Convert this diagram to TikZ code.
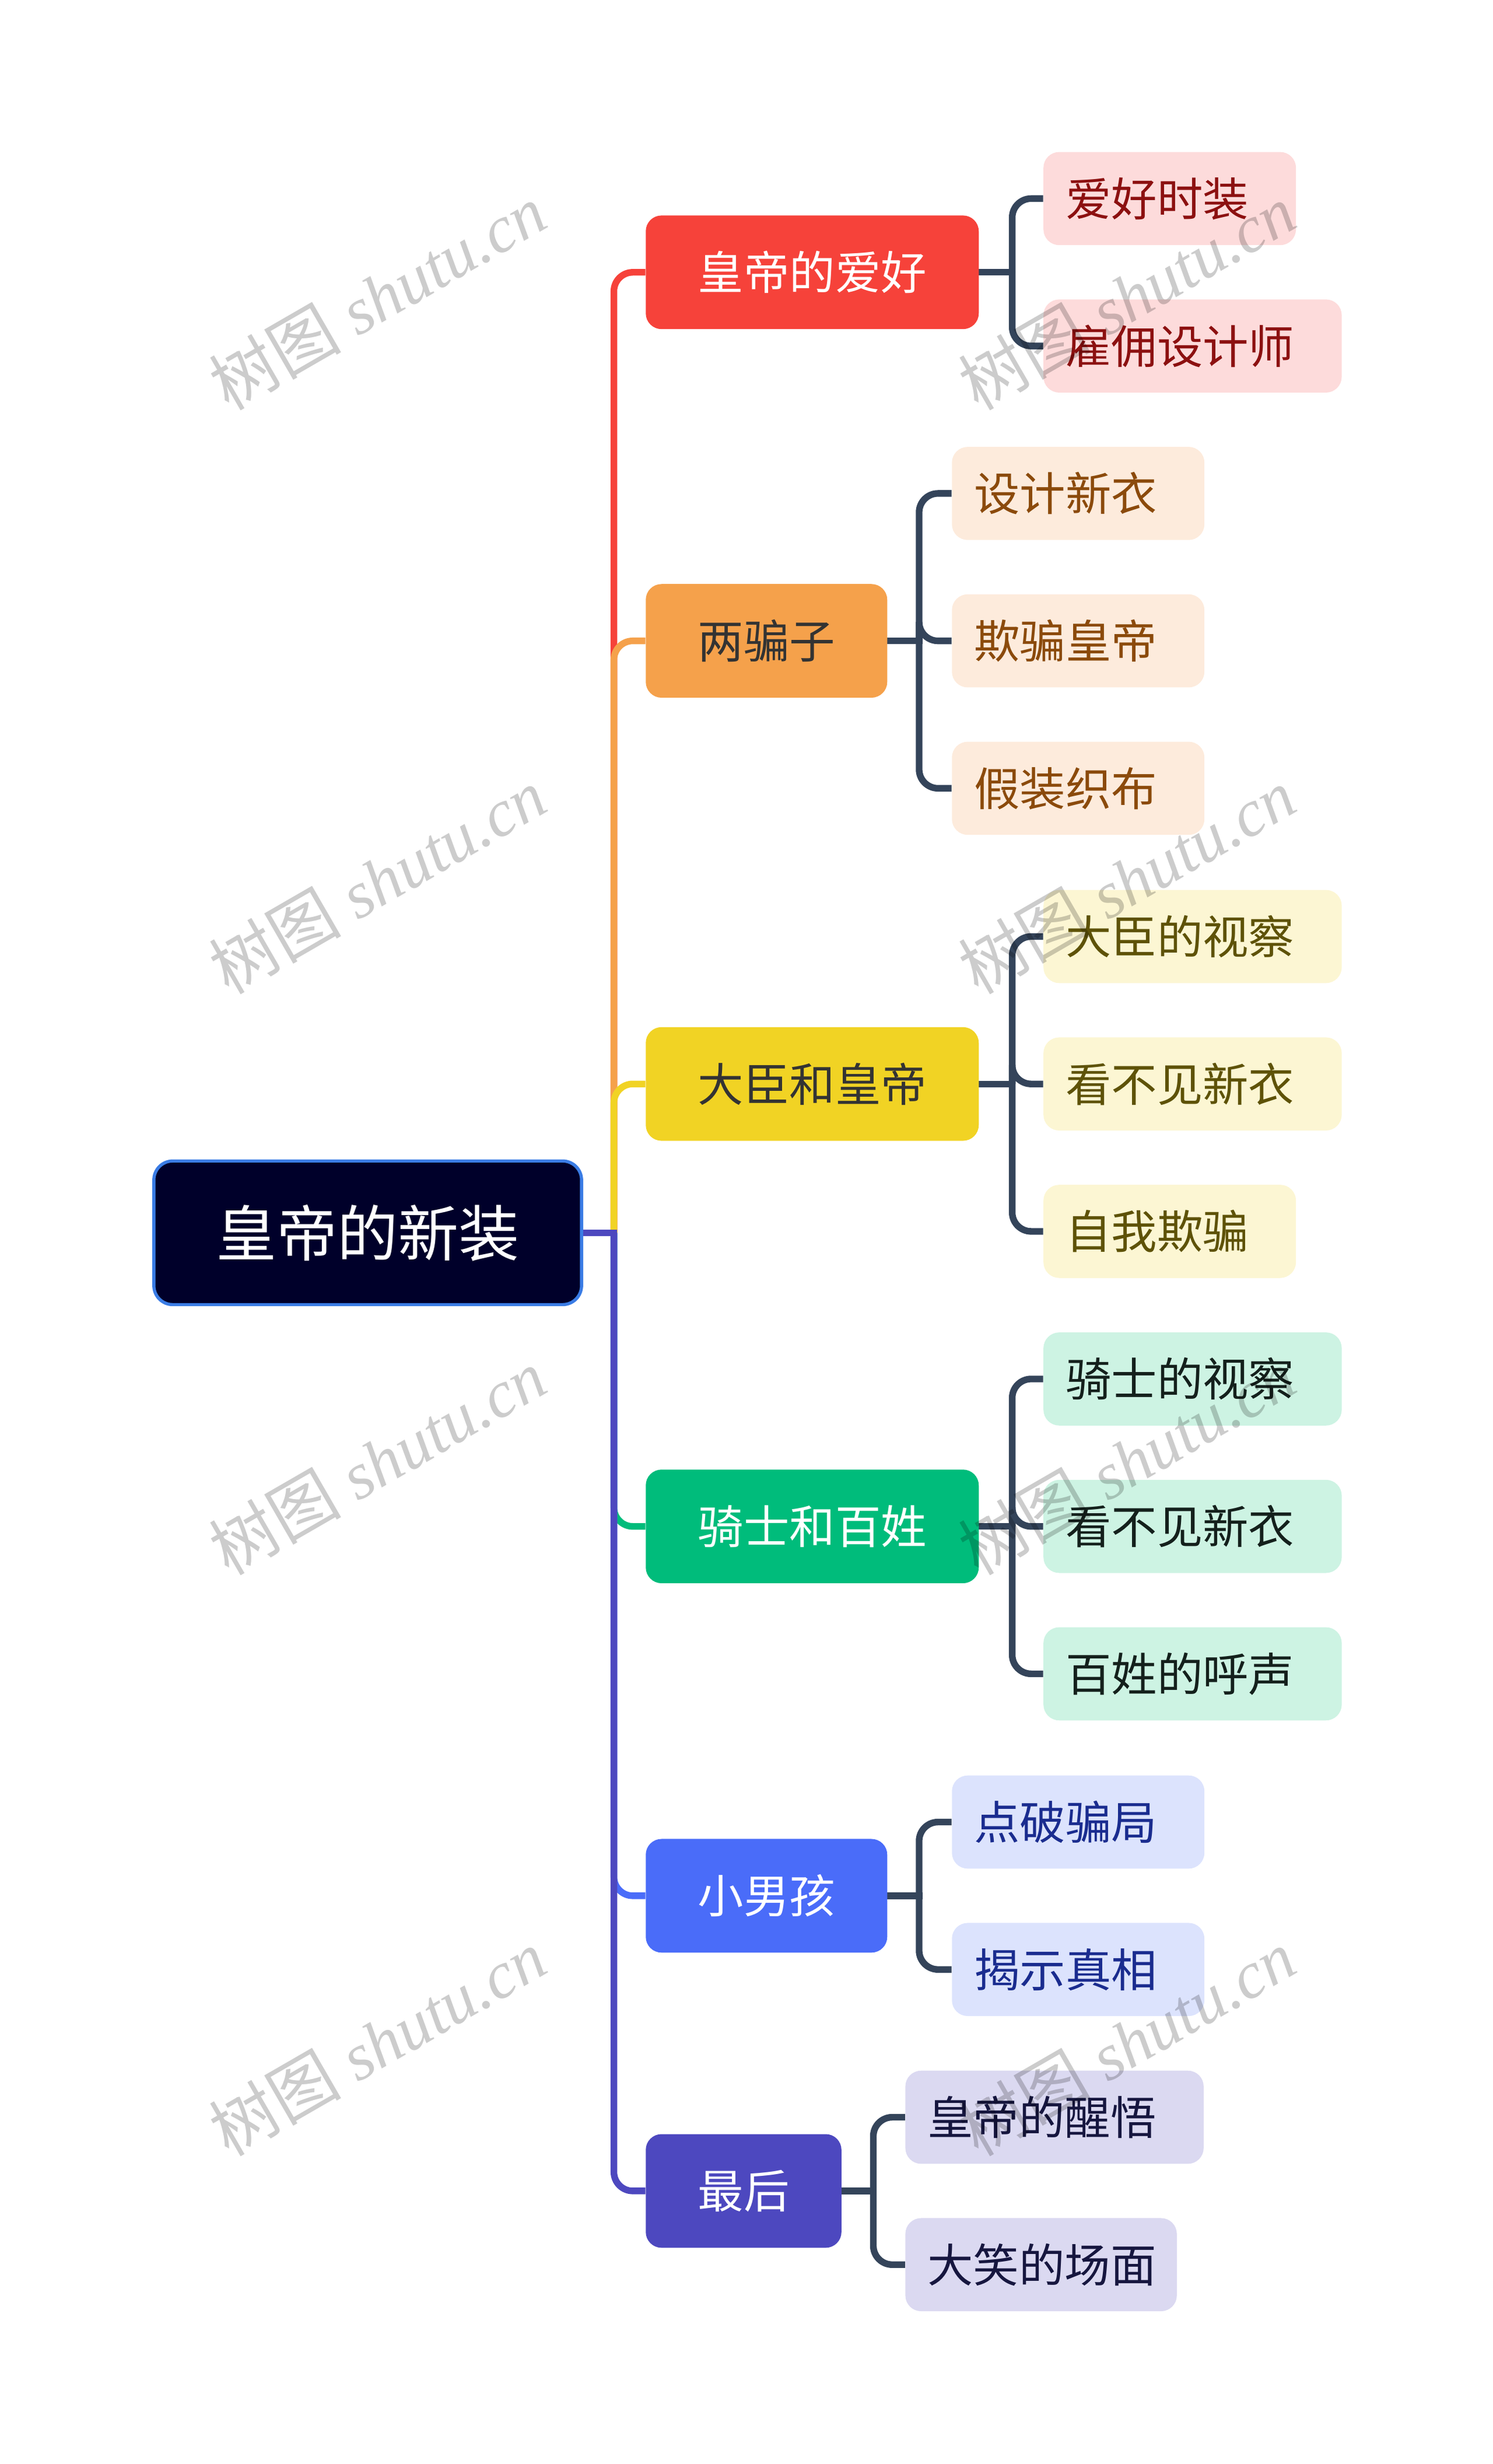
\documentclass[tikz,border=0pt]{standalone}
\usepackage{fontspec}
\setmainfont{Liberation Serif}
\newfontfamily\cjk{Noto Sans CJK SC}
\usetikzlibrary{backgrounds}
\definecolor{rootfill}{HTML}{00002A}
\definecolor{rootline}{HTML}{3A7CE5}
\definecolor{cred}{HTML}{F6423A}
\definecolor{corange}{HTML}{F5A14B}
\definecolor{cyellow}{HTML}{F1D324}
\definecolor{cgreen}{HTML}{00BC7B}
\definecolor{cblue}{HTML}{4A6CF9}
\definecolor{cindigo}{HTML}{4D48BF}
\definecolor{cdark}{HTML}{34445A}
\definecolor{maintext}{HTML}{333333}
\definecolor{fred}{HTML}{FDDBDB}\definecolor{tred}{HTML}{8C1010}
\definecolor{forange}{HTML}{FDEBDC}\definecolor{torange}{HTML}{8B4A0B}
\definecolor{fyellow}{HTML}{FCF6D3}\definecolor{tyellow}{HTML}{5E5207}
\definecolor{fgreen}{HTML}{CDF3E3}\definecolor{tgreen}{HTML}{14201C}
\definecolor{fblue}{HTML}{DCE3FD}\definecolor{tblue}{HTML}{1A2C8F}
\definecolor{findigo}{HTML}{DBD9F1}\definecolor{tindigo}{HTML}{16163F}
\tikzset{
  rootbox/.style={draw=rootline, line width=2pt, fill=rootfill, text=white,
    rounded corners=12pt, minimum width=271pt, minimum height=91pt, inner sep=0pt,
    anchor=west, font=\cjk\fontsize{38.5}{40}\selectfont},
  mainbox/.style={rounded corners=10pt, minimum height=72pt, inner sep=0pt,
    anchor=west, font=\cjk\fontsize{29}{30}\selectfont},
  subbox/.style={rounded corners=10pt, minimum height=59pt, inner ysep=0pt,
    inner xsep=14pt, align=left, anchor=west, font=\cjk\fontsize{29}{30}\selectfont},
  branch/.style={line width=4.2pt, rounded corners=12pt},
  subline/.style={line width=4.2pt, draw=cdark, rounded corners=12pt},
  stub/.style={line width=4.2pt, line cap=rect},
  wm/.style={rotate=30, text=black, text opacity=0.2, inner sep=0pt,
    font=\fontsize{42}{42}\selectfont}
}
\begin{document}
\begin{tikzpicture}[x=1pt,y=-1pt]
\useasboundingbox (0,0) rectangle (946,1561);
% root
\node[rootbox] (root) at (96.5,781) {皇帝的新装};
% main nodes
\node[mainbox, fill=cred, text=white, minimum width=211pt] (m1) at (409,172.5) {皇帝的爱好};
\node[mainbox, fill=corange, text=maintext, minimum width=153pt] (m2) at (409,406) {两骗子};
\node[mainbox, fill=cyellow, text=maintext, minimum width=211pt] (m3) at (409,686.7) {大臣和皇帝};
\node[mainbox, fill=cgreen, text=white, minimum width=211pt] (m4) at (409,967) {骑士和百姓};
\node[mainbox, fill=cblue, text=white, minimum width=153pt] (m5) at (409,1201) {小男孩};
\node[mainbox, fill=cindigo, text=white, minimum width=124pt] (m6) at (409,1388) {最后};
% sub nodes
\node[subbox, fill=fred, text=tred, text width=132pt] (s11) at (661,125.8) {爱好时装};
\node[subbox, fill=fred, text=tred, text width=161pt] (s12) at (661,219.2) {雇佣设计师};
\node[subbox, fill=forange, text=torange, text width=132pt] (s21) at (603,312.6) {设计新衣};
\node[subbox, fill=forange, text=torange, text width=132pt] (s22) at (603,406) {欺骗皇帝};
\node[subbox, fill=forange, text=torange, text width=132pt] (s23) at (603,499.4) {假装织布};
\node[subbox, fill=fyellow, text=tyellow, text width=161pt] (s31) at (661,593.3) {大臣的视察};
\node[subbox, fill=fyellow, text=tyellow, text width=161pt] (s32) at (661,686.7) {看不见新衣};
\node[subbox, fill=fyellow, text=tyellow, text width=132pt] (s33) at (661,780.1) {自我欺骗};
\node[subbox, fill=fgreen, text=tgreen, text width=161pt] (s41) at (661,873.6) {骑士的视察};
\node[subbox, fill=fgreen, text=tgreen, text width=161pt] (s42) at (661,967) {看不见新衣};
\node[subbox, fill=fgreen, text=tgreen, text width=161pt] (s43) at (661,1060.4) {百姓的呼声};
\node[subbox, fill=fblue, text=tblue, text width=132pt] (s51) at (603,1154.3) {点破骗局};
\node[subbox, fill=fblue, text=tblue, text width=132pt] (s52) at (603,1247.7) {揭示真相};
\node[subbox, fill=findigo, text=tindigo, text width=161pt] (s61) at (573.5,1341.3) {皇帝的醒悟};
\node[subbox, fill=findigo, text=tindigo, text width=144pt] (s62) at (573.5,1434.7) {大笑的场面};
% connectors
\begin{scope}[on background layer]
\coordinate (J) at (389,781);
\draw[branch, cred] (J) |- (m1.west);
\draw[branch, corange] (J) |- (m2.west);
\draw[branch, cyellow] (J) |- (m3.west);
\draw[branch, cgreen] (J) |- (m4.west);
\draw[branch, cblue] (J) |- (m5.west);
\draw[branch, cindigo] (J) |- (m6.west);
\draw[stub, cindigo] (root.east) -- (J);
% sub connectors
\draw[stub, cdark] (m1.east) -- ++(21,0) coordinate (j1);
\draw[subline] (j1) |- (s11.west);
\draw[subline] (j1) |- (s12.west);
\draw[stub, cdark] (m2.east) -- ++(20,0) coordinate (j2);
\draw[subline] (j2) |- (s21.west);
\draw[subline] (j2) |- (s22.west);
\draw[subline] (j2) |- (s23.west);
\draw[stub, cdark] (m3.east) -- ++(21,0) coordinate (j3);
\draw[subline] (j3) |- (s31.west);
\draw[subline] (j3) |- (s32.west);
\draw[subline] (j3) |- (s33.west);
\draw[stub, cdark] (m4.east) -- ++(21,0) coordinate (j4);
\draw[subline] (j4) |- (s41.west);
\draw[subline] (j4) |- (s42.west);
\draw[subline] (j4) |- (s43.west);
\draw[stub, cdark] (m5.east) -- ++(20,0) coordinate (j5);
\draw[subline] (j5) |- (s51.west);
\draw[subline] (j5) |- (s52.west);
\draw[stub, cdark] (m6.east) -- ++(20,0) coordinate (j6);
\draw[subline] (j6) |- (s61.west);
\draw[subline] (j6) |- (s62.west);
\end{scope}
% watermarks
\node[wm] (w1) at (239,188) {{\cjk 树图} \textit{shutu.cn}};
\node[wm] (w2) at (714,188) {{\cjk 树图} \textit{shutu.cn}};
\node[wm] (w3) at (239,558) {{\cjk 树图} \textit{shutu.cn}};
\node[wm] (w4) at (714,558) {{\cjk 树图} \textit{shutu.cn}};
\node[wm] (w5) at (239,926) {{\cjk 树图} \textit{shutu.cn}};
\node[wm] (w6) at (714,926) {{\cjk 树图} \textit{shutu.cn}};
\node[wm] (w7) at (239,1294) {{\cjk 树图} \textit{shutu.cn}};
\node[wm] (w8) at (714,1294) {{\cjk 树图} \textit{shutu.cn}};
\end{tikzpicture}
\end{document}
